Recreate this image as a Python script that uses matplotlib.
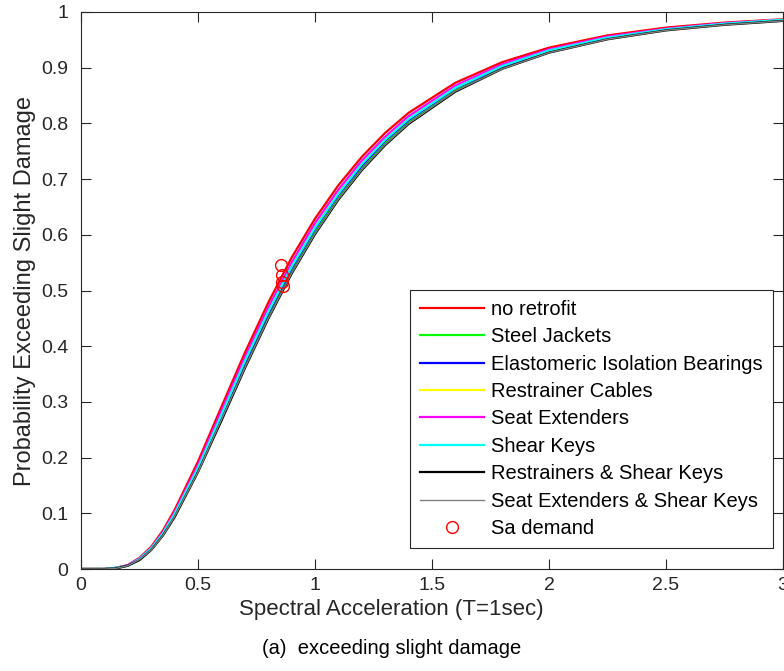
import matplotlib
matplotlib.use("Agg")
import matplotlib.pyplot as plt

plt.rcParams['font.family'] = ['Liberation Sans', 'DejaVu Sans']

# Spectral acceleration values (T=1sec) at which the curves were read
sa = [0, 0.05, 0.1, 0.15, 0.2, 0.25, 0.3, 0.35, 0.4, 0.5, 0.6, 0.7, 0.8, 0.9,
      1.0, 1.1, 1.2, 1.3, 1.4, 1.6, 1.8, 2.0, 2.25, 2.5, 2.75, 3.0]

# Probability of exceeding slight damage, one list per retrofit
no_retrofit = [0, 0, 0.000, 0.002, 0.007, 0.020, 0.040, 0.069, 0.106, 0.193, 0.291, 0.388, 0.478,
               0.559, 0.629, 0.689, 0.740, 0.783, 0.819, 0.873, 0.910, 0.936, 0.958, 0.972, 0.981, 0.987]
steel_jackets = [0, 0, 0.000, 0.002, 0.006, 0.017, 0.035, 0.061, 0.095, 0.176, 0.270, 0.364, 0.453,
                 0.534, 0.605, 0.666, 0.719, 0.764, 0.802, 0.859, 0.899, 0.928, 0.952, 0.968, 0.978, 0.985]
elastomeric = [0, 0, 0.000, 0.002, 0.006, 0.018, 0.036, 0.063, 0.098, 0.180, 0.275, 0.370, 0.459,
               0.540, 0.611, 0.672, 0.724, 0.769, 0.806, 0.863, 0.902, 0.930, 0.953, 0.969, 0.979, 0.985]
restrainer_cables = [0, 0, 0.000, 0.002, 0.006, 0.018, 0.037, 0.064, 0.100, 0.183, 0.279, 0.374, 0.463,
                     0.544, 0.615, 0.676, 0.728, 0.772, 0.809, 0.865, 0.904, 0.931, 0.955, 0.969, 0.979, 0.986]
seat_extenders = [0, 0, 0.000, 0.002, 0.007, 0.019, 0.038, 0.066, 0.102, 0.187, 0.284, 0.380, 0.469,
                  0.550, 0.621, 0.681, 0.733, 0.776, 0.813, 0.868, 0.906, 0.933, 0.956, 0.970, 0.980, 0.986]
shear_keys = [0, 0, 0.000, 0.002, 0.006, 0.018, 0.037, 0.064, 0.099, 0.182, 0.277, 0.373, 0.462,
              0.543, 0.613, 0.674, 0.727, 0.771, 0.808, 0.864, 0.903, 0.931, 0.954, 0.969, 0.979, 0.986]
restrainers_keys = [0, 0, 0.000, 0.001, 0.006, 0.016, 0.034, 0.060, 0.093, 0.174, 0.266, 0.360, 0.449,
                    0.530, 0.601, 0.663, 0.716, 0.761, 0.799, 0.857, 0.898, 0.927, 0.951, 0.967, 0.977, 0.984]
seat_ext_keys = [0, 0, 0.000, 0.001, 0.006, 0.017, 0.034, 0.060, 0.094, 0.174, 0.268, 0.361, 0.450,
                 0.531, 0.602, 0.664, 0.717, 0.762, 0.800, 0.858, 0.898, 0.927, 0.951, 0.967, 0.977, 0.984]

# Sa demand points
demand_sa = [0.853, 0.857, 0.860, 0.862]
demand_p = [0.546, 0.527, 0.516, 0.508]

labels = ["no retrofit", "Steel Jackets", "Elastomeric Isolation Bearings",
          "Restrainer Cables", "Seat Extenders", "Shear Keys",
          "Restrainers & Shear Keys", "Seat Extenders & Shear Keys"]
series = [no_retrofit, steel_jackets, elastomeric, restrainer_cables,
          seat_extenders, shear_keys, restrainers_keys, seat_ext_keys]
colors = ["#ff0000", "#00ff00", "#0000ff", "#ffff00", "#ff00ff", "#00ffff", "#000000", "#808080"]
widths = [1.6, 1.6, 1.6, 1.6, 1.6, 1.6, 1.6, 1.0]

fig = plt.figure(figsize=(7.84, 6.71), dpi=100)
ax = fig.add_axes([81 / 784, 1 - 569 / 671, 702 / 784, 557 / 671])

for y, lab, c, w in zip(series, labels, colors, widths):
    ax.plot(sa, y, color=c, lw=w, label=lab)
ax.plot(demand_sa, demand_p, 'o', mfc='none', mec='#ff0000', ms=8.5, mew=1.0,
        label="Sa demand")

ax.set_xlim(0, 3)
ax.set_ylim(0, 1)
ax.set_xticks([0, 0.5, 1, 1.5, 2, 2.5, 3])
ax.set_xticklabels(["0", "0.5", "1", "1.5", "2", "2.5", "3"])
ax.set_yticks([i / 10 for i in range(11)])
ax.set_yticklabels(["0", "0.1", "0.2", "0.3", "0.4", "0.5", "0.6", "0.7", "0.8", "0.9", "1"])
ax.tick_params(direction='in', length=7, width=0.8, top=True, right=True,
               labelsize=14, colors='#262626')
ax.tick_params(axis='x', pad=6)
ax.tick_params(axis='y', pad=9)
for s in ax.spines.values():
    s.set_color('#262626')
    s.set_linewidth(0.8)

ax.set_xlabel("Spectral Acceleration (T=1sec)", fontsize=16, color='#262626')
ax.xaxis.set_label_coords((391 - 81) / 702, -(599 - 569) / 557)
ax.set_ylabel("Probability Exceeding Slight Damage", fontsize=17, color='#262626', labelpad=4)

leg = ax.legend(loc='lower right', bbox_to_anchor=(0.986, 0.037), fontsize=14.5,
                frameon=True, fancybox=False, framealpha=1, edgecolor='#262626',
                handlelength=3.2, handletextpad=0.36, labelspacing=0.42,
                borderpad=0.5, borderaxespad=0)
leg.get_frame().set_linewidth(0.8)

fig.text(392 / 784, 1 - 648 / 671, "(a)  exceeding slight damage", fontsize=14.5,
         ha='center', va='center', color='black')

fig.savefig("out.png", dpi=100)
